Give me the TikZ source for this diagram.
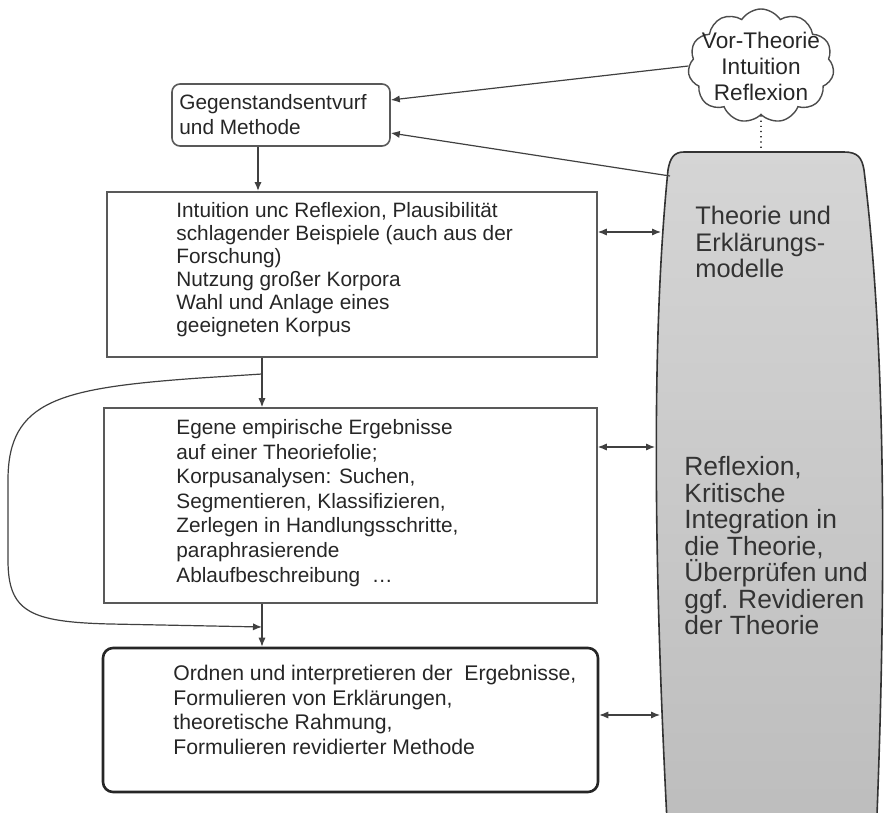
\documentclass[tikz,border=0pt]{standalone}
\usepackage{fontspec}
\setmainfont{Liberation Sans}
\usetikzlibrary{arrows.meta,positioning,calc,shapes.symbols}

\begin{document}
\begin{tikzpicture}[
  x=0.5pt, y=-0.5pt, >={Latex[length=4.5pt,width=3.6pt]},
  boxtext/.style={anchor=west, align=left, inner sep=0pt, text=black!85},
  framebox/.style={draw=gray!70!black, line width=0.8pt, inner sep=0pt},
  startbox/.style={framebox, rounded corners=4pt},
  endbox/.style={framebox, draw=black!85, line width=1.3pt, rounded corners=5pt},
  link/.style={draw=black!75, line width=0.6pt},
  bartext/.style={anchor=west, align=left, inner sep=0pt, text=black!80},
]
\clip (0,0) rectangle (891,813);

% theory barrel on the right, drawn first so the arrows sit on top of it
\path[shade, top color=gray!33, bottom color=gray!52, draw=gray!40!black, line width=0.8pt]
  (684,152) -- (844,152) .. controls (858,152) and (862,158) .. (864,170)
  .. controls (880,300) and (890,500) .. (876,840) -- (668,840)
  .. controls (650,500) and (655,300) .. (668,170)
  .. controls (670,158) and (674,152) .. (684,152) -- cycle;
\coordinate (bTop) at (761,152);
\coordinate (bTL) at (670,176);
\coordinate (bA) at (661,232);
\coordinate (bB) at (655,447);
\coordinate (bC) at (660,715);

\node[bartext, font=\fontsize{12.7}{13.3}\selectfont] (theorie) at (695,242)
  {Theorie und\\Erklärungs-\\modelle};
\node[bartext, font=\fontsize{13.2}{13.25}\selectfont] (reflex) at (684,546)
  {Reflexion,\\Kritische\\Integration in\\die Theorie,\\Überprüfen und\\ggf. Revidieren\\der Theorie};

% cloud with the pre-theory
\node[cloud, cloud puffs=11, cloud puff arc=115, draw=black!70, line width=0.7pt,
  minimum width=73pt, minimum height=57pt, inner sep=0pt] (vor) at (761,66) {};
\node[align=center, inner sep=0pt, text=black!85, font=\fontsize{11.3}{13}\selectfont] (vortxt) at (vor.center)
  {Vor-Theorie\\Intuition\\Reflexion};

% (a) object design
\node[startbox, minimum width=109pt, minimum height=31pt] (gegen) at (281,115) {};
\node[boxtext, font=\fontsize{10.4}{12.5}\selectfont] (gegentxt) at (179,115)
  {Gegenstandsentvurf\\und Methode};

% (b) intuition and corpus
\node[framebox, minimum width=245pt, minimum height=82.5pt] (intuit) at (352,274.5) {};
\node[boxtext, font=\fontsize{10.4}{11.5}\selectfont] (intuittxt) at (176,270)
  {Intuition unc Reflexion, Plausibilität\\schlagender Beispiele (auch aus der\\Forschung)\\Nutzung großer Korpora\\Wahl und Anlage eines\\geeigneten Korpus};

% (c) own empirical results
\node[framebox, minimum width=246.5pt, minimum height=97.5pt] (korpus) at (350.5,505.5) {};
\node[boxtext, font=\fontsize{10.4}{12.3}\selectfont] (korpustxt) at (176,503)
  {Egene empirische Ergebnisse\\auf einer Theoriefolie;\\Korpusanalysen: Suchen,\\Segmentieren, Klassifizieren,\\Zerlegen in Handlungsschritte,\\paraphrasierende\\Ablaufbeschreibung \ \dots};

% (d) ordering and interpreting
\node[endbox, minimum width=247.5pt, minimum height=72pt] (ordnen) at (350.5,720) {};
\node[boxtext, font=\fontsize{10.6}{12.3}\selectfont] (ordnentxt) at (173,710)
  {Ordnen und interpretieren der \ Ergebnisse,\\Formulieren von Erklärungen,\\theoretische Rahmung,\\Formulieren revidierter Methode};

% main flow
\coordinate (split) at (262,374);
\coordinate (join) at (262,627);
\draw[link, line width=1pt, ->] ([xshift=-11.5pt]gegen.south) -- ([xshift=-11.5pt]gegen.south |- intuit.north);
\draw[link] (split |- intuit.south) -- (split);
\draw[link, ->] (split) -- (split |- korpus.north);
\draw[link, ->] (split |- korpus.south) -- (split |- ordnen.north);
% loop back around the corpus step
\draw[link, ->] (split) -- (200,378) .. controls (60,388) and (8,400) .. (8,480)
  -- (8,560) .. controls (8,612) and (30,622) .. (110,624) -- (join);

% links to the theory side
\draw[link, ->] (vor.west) -- ([yshift=7.5pt]gegen.east);
\draw[link, ->] (bTL) -- ([yshift=-9pt]gegen.east);
\draw[link, dotted, line width=0.9pt] (vor.south) -- (bTop);
\draw[link, <->] (bA -| intuit.east) -- (bA);
\draw[link, <->] (bB -| korpus.east) -- (bB);
\draw[link, <->] (bC -| ordnen.east) -- (bC);

\end{tikzpicture}
\end{document}
